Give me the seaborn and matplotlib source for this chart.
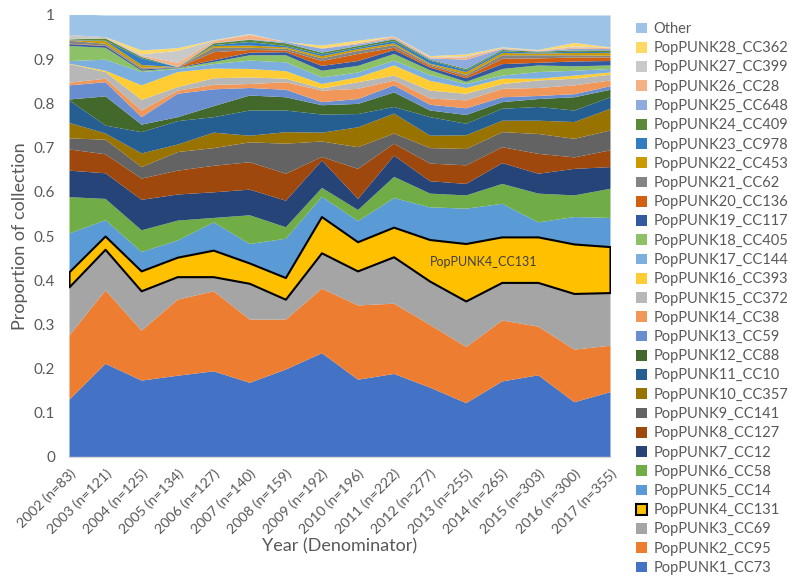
import numpy as np
import matplotlib
matplotlib.use("Agg")
import matplotlib.pyplot as plt
from matplotlib.patches import Patch
import seaborn as sns

years = [2002, 2003, 2004, 2005, 2006, 2007, 2008, 2009, 2010, 2011, 2012, 2013, 2014, 2015, 2016, 2017]
denominators = [83, 121, 125, 134, 127, 140, 159, 192, 196, 222, 277, 255, 265, 303, 300, 355]

pp1 = [.131, .212, .174, .185, .195, .169, .199, .236, .176, .189, .158, .123, .172, .186, .125, .148]
pp2 = [.145, .166, .113, .172, .181, .143, .113, .146, .168, .159, .142, .127, .138, .110, .119, .105]
pp3 = [.109, .092, .089, .051, .032, .081, .045, .080, .077, .105, .098, .103, .085, .099, .126, .119]
pp4 = [.034, .030, .045, .044, .060, .046, .049, .082, .066, .067, .094, .130, .103, .103, .112, .104]
pp5 = [.088, .037, .044, .039, .064, .044, .089, .046, .048, .067, .074, .080, .076, .034, .062, .066]
pp6 = [.082, .048, .049, .045, .010, .065, .026, .020, .025, .048, .031, .030, .045, .065, .049, .066]
pp7 = [.060, .058, .069, .059, .058, .058, .060, .062, .025, .048, .028, .026, .047, .045, .060, .049]
pp8 = [.048, .043, .048, .054, .060, .062, .061, .008, .068, .027, .040, .042, .036, .045, .026, .038]
pp9 = [.025, .033, .026, .042, .040, .045, .068, .035, .049, .023, .035, .037, .034, .045, .042, .045]
pp10 = [.035, .014, .031, .017, .035, .015, .026, .020, .045, .045, .028, .031, .026, .030, .038, .049]
pp11 = [.051, .018, .048, .053, .035, .057, .049, .041, .030, .015, .042, .026, .027, .031, .026, .026]
pp12 = [.002, .066, .017, .009, .025, .034, .030, .021, .023, .033, .015, .020, .015, .018, .030, .017]
pp13 = [.032, .032, .017, .053, .038, .017, .017, .007, .011, .016, .013, .015, .011, .007, .007, .008]
pp14 = [.006, .008, .015, .007, .010, .009, .017, .026, .023, .011, .014, .018, .019, .018, .020, .013]
pp15 = [.042, .015, .024, .008, .015, .015, .008, .005, .015, .011, .018, .015, .011, .017, .015, .013]
pp16 = [.001, .003, .033, .034, .022, .019, .017, .010, .011, .023, .022, .013, .012, .004, .007, .005]
pp17 = [.006, .025, .030, .007, .010, .019, .020, .015, .011, .011, .013, .009, .007, .015, .011, .008]
pp18 = [.034, .027, .003, .002, .005, .012, .016, .015, .015, .015, .011, .005, .015, .015, .010, .008]
pp19 = [.004, .004, .003, .001, .004, .006, .007, .011, .011, .009, .006, .008, .011, .006, .011, .010]
pp20 = [.001, .001, .001, .000, .018, .006, .004, .011, .016, .005, .004, .004, .012, .010, .009, .008]
pp21 = [.007, .004, .003, .001, .010, .005, .004, .006, .007, .006, .003, .004, .008, .007, .005, .004]
pp22 = [.001, .006, .006, .000, .004, .005, .003, .005, .004, .004, .002, .006, .005, .004, .005, .006]
pp23 = [.001, .001, .015, .000, .002, .008, .003, .004, .003, .005, .007, .004, .004, .002, .003, .002]
pp24 = [.001, .005, .003, .000, .004, .005, .006, .004, .004, .004, .002, .003, .003, .002, .003, .004]
pp25 = [.000, .000, .001, .001, .001, .001, .003, .009, .004, .002, .003, .021, .002, .001, .004, .003]
pp26 = [.000, .001, .002, .009, .004, .010, .000, .001, .002, .004, .002, .005, .002, .001, .003, .002]
pp27 = [.010, .002, .003, .027, .001, .001, .000, .000, .001, .001, .001, .003, .001, .001, .002, .001]
pp28 = [.000, .000, .009, .006, .001, .001, .000, .006, .005, .000, .002, .004, .001, .001, .008, .001]
other = [.047, .049, .079, .074, .056, .042, .060, .068, .057, .047, .092, .088, .072, .078, .062, .072]

series_names = [
    "PopPUNK1_CC73", "PopPUNK2_CC95", "PopPUNK3_CC69", "PopPUNK4_CC131",
    "PopPUNK5_CC14", "PopPUNK6_CC58", "PopPUNK7_CC12", "PopPUNK8_CC127",
    "PopPUNK9_CC141", "PopPUNK10_CC357", "PopPUNK11_CC10", "PopPUNK12_CC88",
    "PopPUNK13_CC59", "PopPUNK14_CC38", "PopPUNK15_CC372", "PopPUNK16_CC393",
    "PopPUNK17_CC144", "PopPUNK18_CC405", "PopPUNK19_CC117", "PopPUNK20_CC136",
    "PopPUNK21_CC62", "PopPUNK22_CC453", "PopPUNK23_CC978", "PopPUNK24_CC409",
    "PopPUNK25_CC648", "PopPUNK26_CC28", "PopPUNK27_CC399", "PopPUNK28_CC362",
    "Other",
]
series_values = [pp1, pp2, pp3, pp4, pp5, pp6, pp7, pp8, pp9, pp10, pp11, pp12, pp13, pp14,
                 pp15, pp16, pp17, pp18, pp19, pp20, pp21, pp22, pp23, pp24, pp25, pp26,
                 pp27, pp28, other]

colors = [
    "#4472C4", "#ED7D31", "#A5A5A5", "#FFC000", "#5B9BD5", "#70AD47",
    "#264478", "#9E480E", "#636363", "#997300", "#255E91", "#43682B",
    "#698ED0", "#F1975A", "#B7B7B7", "#FFCD33", "#7CAFDD", "#8CC168",
    "#335AA1", "#D26012", "#848484", "#CC9A00", "#327DC2", "#5A8A39",
    "#8FAADC", "#F4B183", "#C9C9C9", "#FFD966", "#9DC3E6",
]

sns.set_theme(style="white")
plt.rcParams["font.family"] = ["Lato", "DejaVu Sans"]
text_color = "#595959"

fig = plt.figure(figsize=(8.0, 5.83), dpi=100)
ax = fig.add_axes([69 / 800, 1 - 457 / 583, (610 - 69) / 800, (457 - 15) / 583])

x = np.arange(len(years))
polys = ax.stackplot(x, *series_values, colors=colors, linewidth=0)
polys[3].set_edgecolor("black")
polys[3].set_linewidth(1.5)
polys[3].set_zorder(3)

ax.set_xlim(0, len(years) - 1)
ax.set_ylim(0, 1)
ax.set_yticks(np.arange(0, 1.01, 0.1))
ax.set_yticklabels(["0", "0.1", "0.2", "0.3", "0.4", "0.5", "0.6", "0.7", "0.8", "0.9", "1"])
ax.set_xticks(x)
ax.set_xticklabels([f"{y} (n={n})" for y, n in zip(years, denominators)],
                   rotation=45, ha="right", rotation_mode="anchor")
ax.tick_params(axis="both", colors=text_color, length=0, pad=6)
ax.tick_params(axis="x", labelsize=10.3, pad=7)
ax.tick_params(axis="y", labelsize=11, pad=10)

for side in ["left", "right", "top"]:
    ax.spines[side].set_visible(False)
ax.spines["bottom"].set_color("#D9D9D9")
ax.spines["bottom"].set_linewidth(1)

ax.set_xlabel("Year (Denominator)", fontsize=13, color=text_color, labelpad=2)
ax.set_ylabel("Proportion of collection", fontsize=13, color=text_color, labelpad=4)

ax.text(11.5, 0.441, "PopPUNK4_CC131", fontsize=9, color="#404040",
        ha="center", va="center", zorder=5)

handles = []
for name, col in zip(series_names, colors):
    if name == "PopPUNK4_CC131":
        handles.append(Patch(facecolor=col, edgecolor="black", linewidth=1.5, label=name))
    else:
        handles.append(Patch(facecolor=col, edgecolor="none", label=name))
handles = handles[::-1]
leg = fig.legend(handles=handles, loc="upper left", bbox_to_anchor=(636 / 800, 1 - 22 / 583),
                 frameon=False, fontsize=10.5, handlelength=0.75, handleheight=0.75,
                 handletextpad=0.45, labelspacing=0.36, borderaxespad=0, borderpad=0)
for t in leg.get_texts():
    t.set_color(text_color)

fig.savefig("out.png", dpi=100)
